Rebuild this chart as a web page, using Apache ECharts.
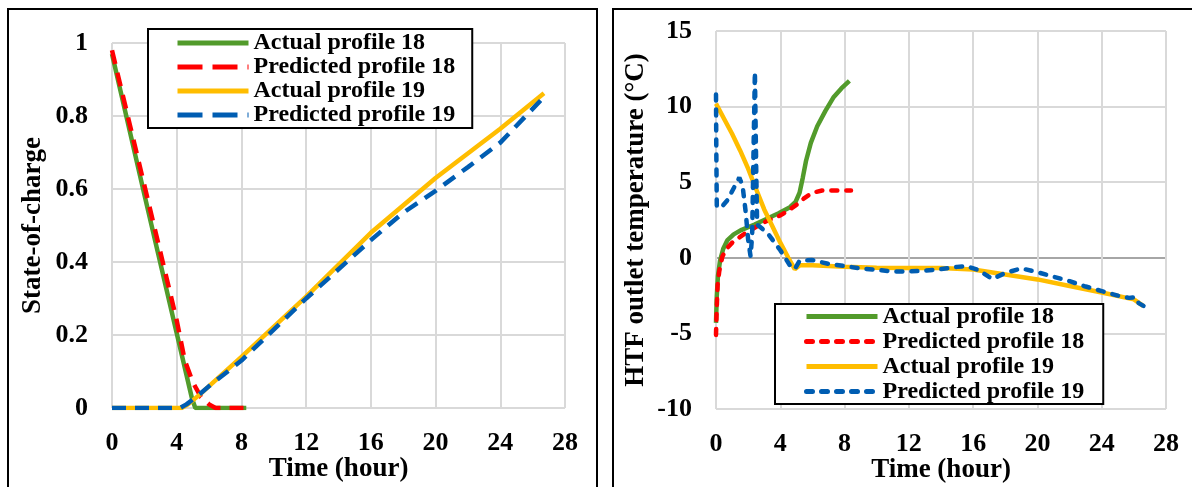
<!DOCTYPE html>
<html>
<head>
<meta charset="utf-8">
<script src="https://cdn.jsdelivr.net/npm/echarts@6/dist/echarts.min.js"></script>
<style>
  html, body { margin: 0; padding: 0; background: #fff; }
  #soc { position: absolute; left: 0; top: 0; width: 600px; height: 487px; }
  #htf { position: absolute; left: 600px; top: 0; width: 592px; height: 487px; }
</style>
</head>
<body>
<div id="soc"></div>
<div id="htf"></div>
<script>
  // series names and axis ticks
  const seriesNames = ["Actual profile 18", "Predicted profile 18", "Actual profile 19", "Predicted profile 19"];
  const timeTicks = [0, 28, 4];      // min, max, interval (hour)
  const socTicks = [0, 1, 0.2];
  const tempTicks = [-10, 15, 5];

  // state-of-charge, [time (hour), soc]
  const socActual18 = [[0, 0.97], [2, 0.585], [4, 0.205], [4.95, 0.025], [5.15, 0], [6, 0], [8.3, 0]];
  const socPredicted18 = [[0, 0.98], [2, 0.61], [4, 0.24], [4.5, 0.13], [5, 0.07], [5.5, 0.03], [6, 0.01], [6.4, 0], [8.4, 0]];
  const socActual19 = [[0, 0], [4.3, 0], [4.7, 0.01], [5.4, 0.036], [6, 0.06], [8, 0.14], [12, 0.305], [16, 0.48], [20, 0.63], [24, 0.765], [26.7, 0.862]];
  const socPredicted19 = [[0, 0], [4.2, 0], [4.6, 0.01], [5.2, 0.03], [6, 0.06], [8, 0.13], [12, 0.3], [16, 0.46], [18, 0.535], [20, 0.595], [22, 0.66], [24, 0.727], [26.7, 0.852]];

  // HTF outlet temperature, [time (hour), degC]
  const tempActual18 = [[0, -4.3], [0.05, -2.5], [0.12, -1.2], [0.25, -0.2], [0.45, 0.6], [0.7, 1.15], [1.1, 1.55], [1.6, 1.85], [2.4, 2.2], [3.1, 2.55], [3.9, 2.95], [4.6, 3.35], [4.95, 3.7], [5.2, 4.3], [5.4, 5.3], [5.6, 6.4], [5.9, 7.6], [6.3, 8.7], [6.8, 9.7], [7.3, 10.6], [7.8, 11.2], [8.3, 11.7]];
  const tempPredicted18 = [[0, -5.1], [0.04, -3.5], [0.1, -1.8], [0.2, -0.9], [0.4, 0.1], [0.7, 0.65], [1.1, 1.1], [1.8, 1.6], [2.5, 2.05], [3.1, 2.4], [4, 2.8], [4.6, 3.2], [5, 3.5], [5.5, 3.95], [6, 4.3], [6.6, 4.45], [8.4, 4.45]];
  const tempActual19 = [[0, 10.2], [0.5, 9.2], [1, 8.2], [1.5, 7.1], [2, 5.9], [2.4, 4.8], [3, 3.2], [3.5, 2.1], [4, 1], [4.5, 0], [4.9, -0.75], [5.2, -0.5], [6, -0.5], [8, -0.6], [10, -0.66], [12, -0.68], [14, -0.68], [16, -0.77], [18, -1.1], [20, -1.43], [22, -1.87], [24, -2.3], [26, -2.75], [26.6, -3.2]];
  const tempPredicted19 = [[0, 10.8], [0.02, 7], [0.05, 3.4], [0.3, 3.3], [0.7, 3.8], [1.1, 4.6], [1.45, 5.3], [1.65, 4.8], [1.85, 3], [2, 1.2], [2.15, 0.1], [2.25, 1.5], [2.35, 8], [2.42, 12.3], [2.5, 6], [2.56, 2.2], [2.9, 1.9], [3.3, 1.5], [4, 0.5], [4.6, -0.5], [4.9, -0.75], [5.2, -0.2], [6, -0.15], [7, -0.4], [8, -0.55], [9, -0.7], [10, -0.8], [11, -0.9], [12, -0.9], [13, -0.85], [14, -0.75], [15, -0.6], [15.6, -0.55], [16.3, -0.8], [17.2, -1.4], [18, -1], [19, -0.7], [20, -0.95], [21, -1.25], [22, -1.55], [23, -1.9], [24, -2.2], [25, -2.5], [25.7, -2.65], [26.1, -2.6], [26.3, -3], [26.8, -3.3]];

  const colors = ["#529b2b", "#ff0000", "#ffbd00", "#005db2"];
  const font = "Liberation Serif";
  const gridGray = "#d9d9d9";

  function xAxisOpt() {
    return {
      type: "value",
      min: timeTicks[0], max: timeTicks[1], interval: timeTicks[2],
      name: "Time (hour)",
      nameLocation: "middle",
      nameGap: 48,
      nameMoveOverlap: false,
      nameTextStyle: { fontFamily: font, fontWeight: "bold", fontSize: 27, color: "#000" },
      axisLine: { show: false },
      axisTick: { show: false },
      axisLabel: { margin: 22, fontFamily: font, fontWeight: "bold", fontSize: 26, color: "#000" },
      splitLine: { lineStyle: { color: gridGray, width: 2 } }
    };
  }

  function legendOpt(pos, pad, lineH, dashed) {
    return Object.assign({
      orient: "vertical",
      itemWidth: 71,
      itemHeight: 14,
      itemGap: 0,
      padding: pad,
      borderColor: "#000",
      borderWidth: 2,
      borderRadius: 0,
      backgroundColor: "#fff",
      itemStyle: { opacity: 0 },
      lineStyle: { width: 5 },
      textStyle: { fontFamily: font, fontWeight: "bold", fontSize: 24, color: "#000", lineHeight: lineH },
      data: seriesNames.map((n, i) => (i % 2 === 1 && dashed) ? { name: n, lineStyle: { type: dashed, width: 5 } } : n)
    }, pos);
  }

  function line(name, data, color, dash, cap) {
    return {
      name: name,
      type: "line",
      data: data,
      symbol: "none",
      smooth: false,
      lineStyle: { color: color, width: 4.5, type: dash || "solid", cap: cap || "butt" },
      itemStyle: { color: color }
    };
  }

  let socChart = echarts.init(document.getElementById("soc"));
  socChart.setOption({
    animation: false,
    graphic: [{ type: "rect", shape: { x: 8, y: 9, width: 589, height: 520 }, style: { fill: "none", stroke: "#000", lineWidth: 2 }, silent: true }],
    grid: { left: 112, top: 43, width: 453, height: 365, outerBoundsMode: "none" },
    legend: legendOpt({ left: 148, top: 29 }, [2, 17, 1, 27], 24, [25, 10]),
    xAxis: xAxisOpt(),
    yAxis: {
      type: "value",
      min: socTicks[0], max: socTicks[1], interval: socTicks[2],
      name: "State-of-charge",
      nameLocation: "middle",
      nameGap: 65,
      nameMoveOverlap: false,
      nameTextStyle: { fontFamily: font, fontWeight: "bold", fontSize: 27, color: "#000" },
      axisLine: { show: false },
      axisTick: { show: false },
      axisLabel: { margin: 24, fontFamily: font, fontWeight: "bold", fontSize: 26, color: "#000" },
      splitLine: { lineStyle: { color: gridGray, width: 2 } }
    },
    series: [
      line(seriesNames[0], socActual18, colors[0]),
      line(seriesNames[1], socPredicted18, colors[1], [14, 9]),
      line(seriesNames[2], socActual19, colors[2]),
      line(seriesNames[3], socPredicted19, colors[3], [14, 9])
    ]
  });

  let htfChart = echarts.init(document.getElementById("htf"));
  htfChart.setOption({
    animation: false,
    graphic: [{ type: "rect", shape: { x: 13, y: 9, width: 600, height: 520 }, style: { fill: "none", stroke: "#000", lineWidth: 2 }, silent: true }],
    grid: { left: 116, top: 31, width: 450, height: 378, outerBoundsMode: "none" },
    legend: legendOpt({ left: 175, top: 304 }, [0, 19, 0, 29], 25, null),
    xAxis: xAxisOpt(),
    yAxis: {
      type: "value",
      min: tempTicks[0], max: tempTicks[1], interval: tempTicks[2],
      name: "HTF outlet temperature (°C)",
      nameLocation: "middle",
      nameGap: 66,
      nameMoveOverlap: false,
      nameTextStyle: { fontFamily: font, fontWeight: "bold", fontSize: 27, color: "#000" },
      axisLine: { show: false },
      axisTick: { show: false },
      axisLabel: { margin: 24, fontFamily: font, fontWeight: "bold", fontSize: 26, color: "#000" },
      splitLine: { lineStyle: { color: [gridGray, gridGray, "#a6a6a6", gridGray, gridGray, gridGray], width: 2 } }
    },
    series: [
      line(seriesNames[0], tempActual18, colors[0]),
      line(seriesNames[1], tempPredicted18, colors[1], [6, 9], "round"),
      line(seriesNames[2], tempActual19, colors[2]),
      line(seriesNames[3], tempPredicted19, colors[3], [6, 9], "round")
    ]
  });

  window.addEventListener("resize", () => {
    socChart.resize();
    htfChart.resize();
  });
</script>
</body>
</html>
